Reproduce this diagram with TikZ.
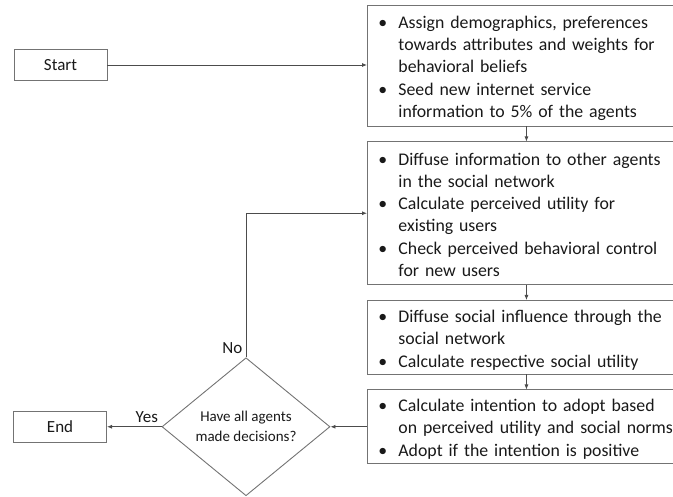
\documentclass[tikz,border=0pt]{standalone}
\usepackage{fontspec}
\setmainfont{Carlito}
\usetikzlibrary{arrows.meta,positioning,shapes.geometric}
\newcommand{\bitem}[1]{\par\noindent\lineskip=0pt\makebox[23pt][l]{\hspace{3pt}\textbullet}%
  \parbox[t]{285pt}{\raggedright\strut#1\strut}}

\begin{document}
\begin{tikzpicture}[
      x=1pt, y=-1pt,
      node distance=15pt,
      every node/.style={font=\fontsize{17}{22}\selectfont, text=black!90},
      term/.style={
        draw=black!55, line width=0.9pt, minimum width=93pt, minimum height=31pt, inner sep=0pt
      },
      stepbox/.style={
        draw=black!55, line width=0.9pt, text width=302pt, align=left,
        inner xsep=8pt, inner ysep=1.5pt, font=\fontsize{17.8}{22}\selectfont
      },
      decision/.style={
        diamond, draw=black!55, line width=0.9pt, minimum width=168pt, minimum height=138pt,
        inner sep=0pt, align=center, font=\fontsize{15}{20}\selectfont
      },
      link/.style={->, draw=black!70, line width=0.8pt},
      >={Latex[length=5pt,width=4pt]}
    ]
    \useasboundingbox (0,0) rectangle (673,497);

    % NODES
    \node[term] (start) at (60.5,65) {Start};
    \node[stepbox, anchor=north west] (init) at (367,5)
      {\bitem{Assign demographics, preferences\\towards attributes and weights for\\behavioral beliefs}%
       \bitem{Seed new internet service\\information to 5\% of the agents}};
    \node[stepbox, below=of init] (diff)
      {\bitem{Diffuse information to other agents\\in the social network}%
       \bitem{Calculate perceived utility for\\existing users}%
       \bitem{Check perceived behavioral control\\for new users}};
    \node[stepbox, inner ysep=0pt, below=of diff] (soc)
      {\bitem{Diffuse social influence through the\\social network}%
       \bitem{Calculate respective social utility}};
    \node[stepbox, inner ysep=0pt, below=of soc] (adopt)
      {\bitem{Calculate intention to adopt based\\on perceived utility and social norms}%
       \bitem{Adopt if the intention is positive}};

    \coordinate (dx) at (246,0);
    \node[decision] (dec) at (adopt.west -| dx) {Have all agents\\made decisions?};
    \node[term, anchor=east] (finish) at (adopt.west -| 107,0) {End};

    % ARROWS
    \draw[link] (start.east) -- (start.east -| init.west);
    \draw[link] (init) -- (diff);
    \draw[link] (diff) -- (soc);
    \draw[link] (soc) -- (adopt);
    \draw[link] (adopt.west) -- (dec.east);
    \draw[link] (dec.west) -- node[pos=0.27, above] {Yes} (finish.east);
    \draw[link] (dec.north) node[above left] {No} |- (diff.west);
  \end{tikzpicture}
\end{document}
